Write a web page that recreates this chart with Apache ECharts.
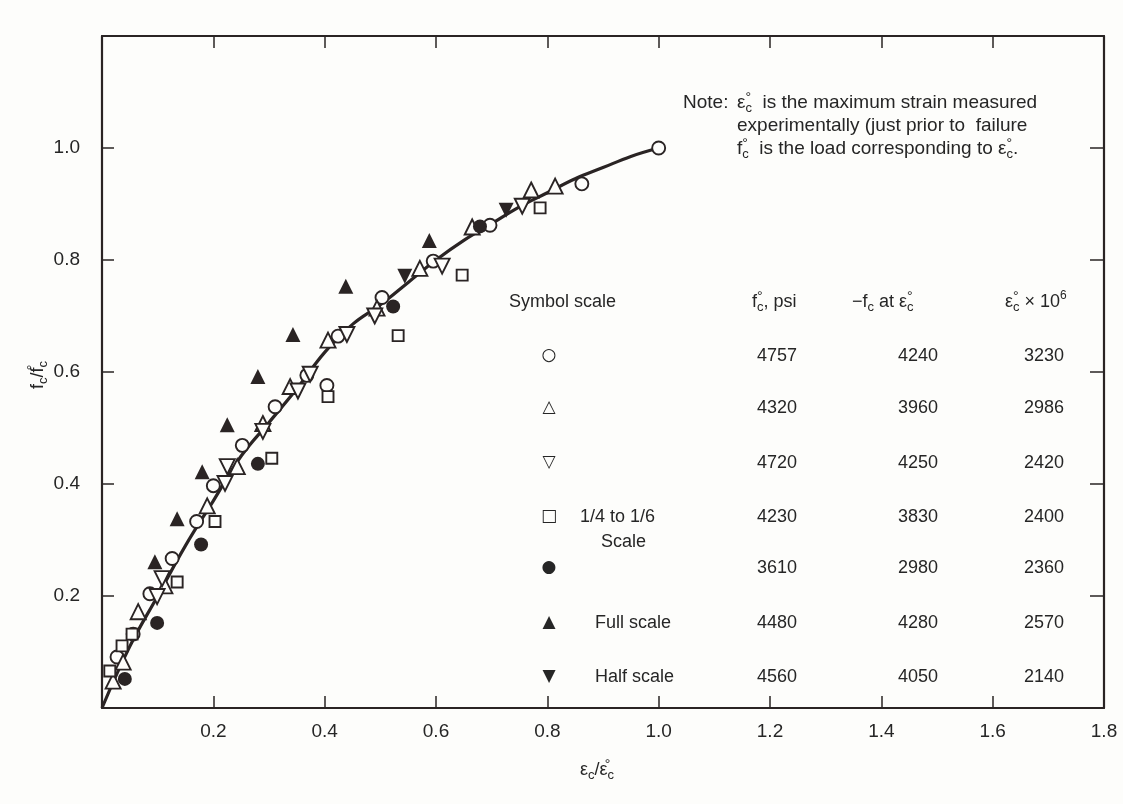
<!DOCTYPE html>
<html><head><meta charset="utf-8">
<script src="https://cdn.jsdelivr.net/npm/echarts@6/dist/echarts.min.js"></script>
<style>html,body{margin:0;padding:0;background:#fdfdfb}#c{width:1123px;height:804px}</style>
</head><body><div id="c"></div>
<script>
// ---- data ----
const curveX = [0, 0.05, 0.1, 0.15, 0.2, 0.25, 0.3, 0.35, 0.4, 0.45, 0.5, 0.55, 0.6, 0.65, 0.7, 0.75, 0.8, 0.85, 0.9, 0.95, 1.0];
const curveY = [0, 0.11, 0.2, 0.29, 0.37, 0.45, 0.51, 0.57, 0.635, 0.685, 0.72, 0.76, 0.80, 0.835, 0.865, 0.895, 0.92, 0.945, 0.965, 0.985, 1.0];

const openCircle = [[0.027,0.091],[0.056,0.132],[0.086,0.204],[0.126,0.267],[0.17,0.333],[0.2,0.397],[0.252,0.469],[0.311,0.538],[0.368,0.594],[0.404,0.576],[0.424,0.664],[0.503,0.733],[0.595,0.798],[0.697,0.862],[0.862,0.936],[1.0,1.0]];
const openTri = [[0.02,0.048],[0.038,0.082],[0.065,0.172],[0.113,0.218],[0.189,0.361],[0.243,0.431],[0.289,0.508],[0.338,0.574],[0.406,0.657],[0.494,0.714],[0.571,0.785],[0.665,0.859],[0.771,0.925],[0.814,0.932]];
const openTriDown = [[0.099,0.199],[0.108,0.231],[0.221,0.401],[0.225,0.431],[0.289,0.494],[0.352,0.566],[0.374,0.596],[0.44,0.667],[0.49,0.7],[0.611,0.789],[0.755,0.896]];
const openSquare = [[0.014,0.066],[0.036,0.111],[0.054,0.132],[0.135,0.225],[0.203,0.333],[0.305,0.446],[0.406,0.556],[0.532,0.665],[0.647,0.773],[0.787,0.893]];
const filledCircle = [[0.041,0.052],[0.099,0.152],[0.178,0.292],[0.28,0.436],[0.523,0.717],[0.679,0.86]];
const filledTri = [[0.095,0.261],[0.135,0.338],[0.18,0.422],[0.225,0.506],[0.28,0.592],[0.343,0.667],[0.438,0.753],[0.588,0.835]];
const filledTriDown = [[0.544,0.771],[0.726,0.889]];

const xTickLabels = ['', '0.2', '0.4', '0.6', '0.8', '1.0', '1.2', '1.4', '1.6', '1.8'];
const yTickLabels = ['', '0.2', '0.4', '0.6', '0.8', '1.0', ''];

const tableGlyphs = ['○', '△', '▽', '□', '●', '▲', '▼'];
const tableScale = ['', '', '', '1/4 to 1/6', '', 'Full scale', 'Half scale'];
const tableFc0 = ['4757', '4320', '4720', '4230', '3610', '4480', '4560'];
const tableFcAt = ['4240', '3960', '4250', '3830', '2980', '4280', '4050'];
const tableEps = ['3230', '2986', '2420', '2400', '2360', '2570', '2140'];

// ---- styling ----
const INK = '#2a2424';
const TXT = '#262626';
const FONT = '"Liberation Sans", Arial, Helvetica, sans-serif';
const FS = 18;
const richG = {
  n: { fontSize: FS, fontFamily: FONT, fill: TXT, lineHeight: 24, verticalAlign: 'middle' },
  n19: { fontSize: 19, fontFamily: FONT, fill: TXT, lineHeight: 24, verticalAlign: 'middle' },
  sup0: { fontSize: 14, fontFamily: FONT, fill: TXT, lineHeight: 13, verticalAlign: 'top', width: 0 },
  sup: { fontSize: 12, fontFamily: FONT, fill: TXT, lineHeight: 12, verticalAlign: 'top' },
  sub: { fontSize: 13, fontFamily: FONT, fill: TXT, lineHeight: 12, verticalAlign: 'bottom' }
};
function gtext(x, y, text, opts) {
  opts = opts || {};
  return {
    type: 'text', x: x, y: y, z: 100, rotation: opts.rot || 0,
    style: Object.assign({
      text: text, fill: TXT, font: (opts.fs || FS) + 'px ' + FONT,
      textAlign: opts.align || 'left', textVerticalAlign: 'middle', rich: richG
    }, opts.style || {})
  };
}

const rowY = [356, 408, 463, 517, 568, 623, 677];
const graphics = [];
// note
graphics.push(gtext(683, 103, 'Note:', { fs: 19 }));
graphics.push(gtext(737, 103, '{n19|ε}{sup0|°}{sub|c}{n19|  is the maximum strain measured}'));
graphics.push(gtext(737, 126, 'experimentally (just prior to  failure', { fs: 19 }));
graphics.push(gtext(737, 149, '{n19|f}{sup0|°}{sub|c}{n19|  is the load corresponding to ε}{sup0|°}{sub|c}{n19|.}'));
// table header
graphics.push(gtext(509, 302, 'Symbol scale'));
graphics.push(gtext(752, 302, '{n|f}{sup0|°}{sub|c}{n|, psi}'));
graphics.push(gtext(852, 302, '{n|−f}{sub|c}{n| at ε}{sup0|°}{sub|c}'));
graphics.push(gtext(1005, 302, '{n|ε}{sup0|°}{sub|c}{n| × 10}{sup|6}'));
// table rows
for (let i = 0; i < tableGlyphs.length; i++) {
  const y = rowY[i];
  graphics.push(gtext(549, y, tableGlyphs[i], { align: 'center', style: { font: 'bold 17px "DejaVu Sans", sans-serif' } }));
  if (tableScale[i]) graphics.push(gtext(i === 3 ? 580 : 595, y, tableScale[i]));
  graphics.push(gtext(777, y, tableFc0[i], { align: 'center' }));
  graphics.push(gtext(918, y, tableFcAt[i], { align: 'center' }));
  graphics.push(gtext(1044, y, tableEps[i], { align: 'center' }));
}
graphics.push(gtext(601, 542, 'Scale'));
// axis titles
graphics.push(gtext(597, 770, '{n|ε}{sub|c}{n|/ε}{sup0|°}{sub|c}', { align: 'center' }));
graphics.push(gtext(38, 375, '{n|f}{sub|c}{n|/f}{sup0|°}{sub|c}', { align: 'center', rot: Math.PI / 2 }));

const chart = echarts.init(document.getElementById('c'), null, { renderer: 'canvas' });

const axisLineStyle = { color: INK, width: 2.2 };
const tickStyle = { color: INK, width: 1.5 };

function scat(name, data, symbol, size, filled, rotate) {
  return {
    name: name, type: 'scatter', data: data, symbol: symbol, symbolSize: size,
    symbolRotate: rotate || 0, z: 5,
    itemStyle: { color: filled ? INK : '#fdfdfb', borderColor: INK, borderWidth: filled ? 0 : 1.9, opacity: 1 },
    emphasis: { disabled: true }
  };
}

chart.setOption({
  backgroundColor: '#fdfdfb',
  animation: false,
  grid: { left: 102, right: 19, top: 36, bottom: 96 },
  xAxis: [{
    type: 'value', min: 0, max: 1.8, interval: 0.2, position: 'bottom',
    axisLine: { show: true, onZero: false, lineStyle: axisLineStyle },
    axisTick: { show: true, inside: true, length: 12, lineStyle: tickStyle },
    splitLine: { show: false },
    axisLabel: {
      fontSize: 19, fontFamily: FONT, color: TXT, margin: 14, showMaxLabel: true,
      formatter: function (v) { return xTickLabels[Math.round(v / 0.2)] || ''; }
    }
  }, {
    type: 'value', min: 0, max: 1.8, interval: 0.2, position: 'top',
    axisLine: { show: true, onZero: false, lineStyle: axisLineStyle },
    axisTick: { show: true, inside: true, length: 12, lineStyle: tickStyle },
    splitLine: { show: false }, axisLabel: { show: false }
  }],
  yAxis: [{
    type: 'value', min: 0, max: 1.2, interval: 0.2, position: 'left',
    axisLine: { show: true, onZero: false, lineStyle: axisLineStyle },
    axisTick: { show: true, inside: true, length: 12, lineStyle: tickStyle },
    splitLine: { show: false },
    axisLabel: {
      fontSize: 19, fontFamily: FONT, color: TXT, margin: 22,
      formatter: function (v) { return yTickLabels[Math.round(v / 0.2)] || ''; }
    }
  }, {
    type: 'value', min: 0, max: 1.2, interval: 0.2, position: 'right',
    axisLine: { show: true, onZero: false, lineStyle: axisLineStyle },
    axisTick: { show: true, inside: true, length: 14, lineStyle: tickStyle },
    splitLine: { show: false }, axisLabel: { show: false }
  }],
  graphic: graphics,
  series: [
    {
      name: 'curve', type: 'line', smooth: 0.4, showSymbol: false, z: 2,
      data: curveX.map((x, i) => [x, curveY[i]]),
      lineStyle: { color: INK, width: 3.2 }, emphasis: { disabled: true }
    },
    scat('○', openCircle, 'circle', 13, false),
    scat('△', openTri, 'triangle', 15, false),
    scat('▽', openTriDown, 'triangle', 15, false, 180),
    scat('□', openSquare, 'rect', 11, false),
    scat('●', filledCircle, 'circle', 14, true),
    scat('▲', filledTri, 'triangle', 15, true),
    scat('▼', filledTriDown, 'triangle', 15, true, 180)
  ]
});
</script>
</body></html>
